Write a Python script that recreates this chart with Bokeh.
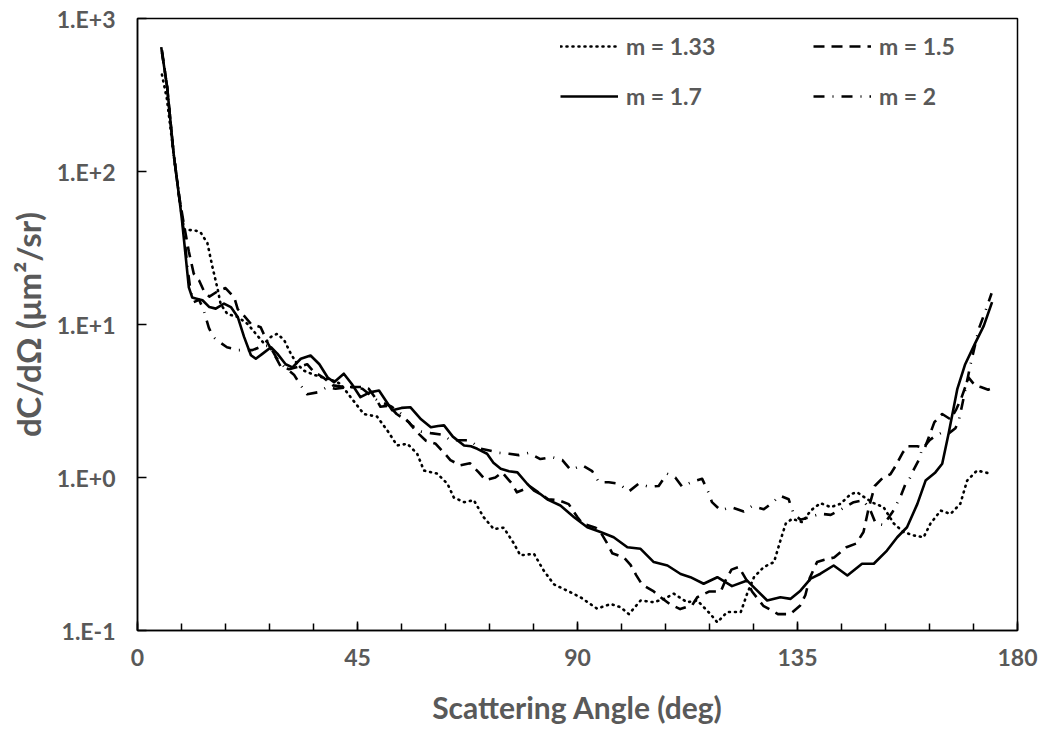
from bokeh.plotting import figure
from bokeh.models import ColumnDataSource, FixedTicker, Legend, LegendItem, Range1d
from bokeh.embed import file_html
from bokeh.resources import INLINE

# ---- data (angle in deg, dC/dOmega in um^2/sr) ----
ang_133 = [5.0, 6.0, 7.4, 8.5, 9.5, 10.5, 12.0, 12.9, 14.3, 15.3, 16.4, 17.0, 18.4, 20.5, 22.5, 24.2, 25.9,
           27.3, 28.6, 30.0, 31.4, 32.7, 34.0, 36.0, 38.0, 40.0, 41.5, 43.6, 46.3, 49.0, 51.1, 53.1, 55.2,
           57.2, 58.6, 61.3, 63.4, 64.7, 66.8, 68.8, 70.8, 72.9, 74.9, 77.0, 78.3, 81.1, 83.1, 85.2, 87.9,
           90.6, 94.0, 96.8, 98.8, 100.5, 102.9, 105.6, 107.7, 109.7, 112.4, 114.5, 117.2, 118.6, 120.6,
           123.4, 124.7, 126.1, 128.1, 130.2, 131.5, 132.6, 133.9, 136.0, 137.7, 139.7, 141.8, 143.8, 145.9,
           147.2, 149.3, 150.6, 152.6, 154.7, 156.7, 158.8, 160.8, 162.2, 164.3, 166.3, 168.3, 169.7, 171.7,
           174.5]
val_133 = [430, 300, 130, 70, 42, 41.5, 41, 40, 34, 24, 17, 13.6, 11.7, 11.2, 10.1, 8.7, 7.5,
           8.3, 8.7, 7.9, 6.4, 5.5, 5.0, 4.7, 4.5, 4.3, 4.1, 3.35, 2.6, 2.5, 2.03, 1.62, 1.66,
           1.43, 1.11, 1.06, 0.91, 0.74, 0.69, 0.71, 0.55, 0.46, 0.47, 0.37, 0.31, 0.317, 0.246, 0.2, 0.182,
           0.165, 0.139, 0.149, 0.142, 0.128, 0.157, 0.153, 0.161, 0.174, 0.153, 0.157, 0.128, 0.113, 0.132,
           0.132, 0.174, 0.223, 0.26, 0.28, 0.387, 0.5, 0.537, 0.51, 0.608, 0.68, 0.64, 0.673, 0.78,
           0.8, 0.72, 0.68, 0.64, 0.5, 0.44, 0.418, 0.407, 0.5, 0.608, 0.578, 0.673, 0.955, 1.11,
           1.06]

ang_15 = [5.0, 6.07, 7.4, 8.45, 9.5, 10.5, 11.5, 12.6, 13.6, 14.7, 16.4, 18.0, 19.8, 20.5, 21.5, 23.2, 25.2,
          26.7, 28.3, 29.3, 31.0, 33.0, 34.7, 36.1, 38.0, 40.0, 42.5, 46.0, 47.3, 48.7, 49.7, 51.4, 53.0,
          55.5, 57.0, 59.0, 61.0, 62.7, 64.0, 66.0, 68.0, 69.8, 71.2, 73.2, 74.6, 76.6, 77.6, 80.4, 82.0,
          84.0, 86.2, 88.2, 90.0, 91.0, 93.7, 94.7, 96.1, 97.1, 99.5, 100.8, 102.0, 103.2, 105.6, 107.0,
          109.0, 111.0, 113.5, 114.5, 117.0, 119.3, 120.2, 121.5, 123.0, 124.7, 125.7, 128.0, 131.0, 133.5,
          135.5, 136.6, 137.5, 139.0, 140.5, 142.5, 145.0, 147.0, 148.5, 149.5, 150.8, 152.5, 154.0, 155.0,
          156.5, 157.5, 159.5, 161.0, 162.3, 163.0, 164.6, 166.3, 167.5, 168.5, 170.0, 171.3, 172.5, 174.0,
          175.0]
val_15 = [620, 355, 130, 71, 45, 30, 21.5, 19.4, 16.5, 15.2, 16.5, 17.3, 15, 12.6, 11.7, 10.1, 9.6,
          7.5, 6.1, 5.3, 5.1, 5.3, 5.5, 4.9, 4.5, 4.0, 3.9, 3.9, 3.8, 3.3, 2.9, 2.95, 2.6,
          2.3, 2.0, 1.74, 1.66, 1.45, 1.3, 1.2, 1.24, 1.08, 0.96, 1.0, 1.08, 0.91, 0.8, 0.87, 0.8,
          0.72, 0.71, 0.67, 0.55, 0.5, 0.47, 0.44, 0.37, 0.32, 0.3, 0.27, 0.23, 0.2, 0.18, 0.165,
          0.148, 0.138, 0.147, 0.165, 0.18, 0.18, 0.21, 0.25, 0.26, 0.21, 0.18, 0.145, 0.128, 0.128,
          0.145, 0.17, 0.22, 0.28, 0.29, 0.3, 0.35, 0.37, 0.44, 0.62, 0.88, 1.0, 1.05, 1.18,
          1.45, 1.6, 1.6, 1.55, 2.0, 2.3, 2.6, 2.4, 2.8, 3.3, 4.5, 4.0, 3.9, 3.75,
          3.85]

ang_17 = [4.85, 6.07, 7.4, 8.45, 9.1, 9.8, 10.5, 11.2, 11.9, 13.3, 14.7, 16.0, 17.7, 19.1, 20.5, 21.8, 23.2,
          24.2, 25.6, 27.3, 28.6, 30.3, 31.7, 33.4, 35.4, 37.2, 38.9, 40.2, 42.2, 43.8, 45.6, 47.5, 49.4,
          51.0, 52.1, 54.0, 55.8, 58.0, 60.0, 61.5, 62.7, 64.5, 66.8, 68.2, 69.5, 71.5, 72.8, 74.3, 76.0,
          77.7, 79.7, 81.1, 82.4, 83.8, 86.5, 89.3, 92.0, 94.7, 97.4, 100.2, 102.9, 105.6, 108.4, 111.1,
          113.1, 115.8, 118.6, 121.6, 124.7, 126.4, 128.8, 131.5, 133.6, 135.6, 137.7, 139.7, 142.4, 145.2,
          148.2, 150.6, 153.3, 155.4, 157.4, 159.5, 161.2, 163.2, 164.6, 165.9, 167.7, 169.3, 171.3, 173.1,
          174.8]
val_17 = [650, 355, 130, 71, 48, 29, 17.5, 15, 14.8, 14.4, 13, 12.7, 13.7, 13, 11.2, 8.3, 6.3,
          5.97, 6.45, 7.1, 6.45, 5.5, 5.25, 5.97, 6.27, 5.5, 4.5, 4.2, 4.77, 4.1, 3.35, 3.6, 3.7,
          3.1, 2.75, 2.85, 2.88, 2.4, 2.13, 2.17, 2.19, 1.85, 1.62, 1.6, 1.54, 1.43, 1.25, 1.14, 1.1,
          1.08, 0.91, 0.82, 0.78, 0.72, 0.656, 0.55, 0.473, 0.44, 0.407, 0.35, 0.342, 0.28, 0.266, 0.234,
          0.223, 0.202, 0.223, 0.195, 0.212, 0.187, 0.157, 0.165, 0.161, 0.182, 0.218, 0.235, 0.266, 0.229,
          0.273, 0.273, 0.333, 0.407, 0.473, 0.67, 0.955, 1.08, 1.23, 1.93, 3.8, 5.5, 7.5, 9.8,
          14]

ang_2 = [5.0, 6.07, 7.4, 8.45, 9.5, 10.2, 10.8, 11.5, 12.6, 13.5, 14.6, 15.5, 16.2, 18.3, 20.7, 23.5, 25.5,
         27.0, 28.5, 30.0, 32.0, 33.4, 34.7, 36.8, 38.8, 40.5, 43.0, 46.0, 49.0, 52.0, 54.0, 56.0, 58.0,
         60.0, 62.5, 64.0, 66.0, 68.0, 70.0, 72.0, 74.0, 76.0, 78.0, 80.0, 82.4, 84.8, 86.9, 88.6, 91.0,
         93.0, 94.4, 96.4, 98.5, 100.5, 102.5, 104.6, 106.6, 108.3, 110.0, 111.4, 113.5, 115.5, 116.7, 117.5,
         119.3, 121.4, 124.0, 125.7, 128.1, 130.0, 131.4, 133.2, 134.2, 135.6, 137.5, 139.7, 141.8, 144.0,
         146.5, 148.5, 150.0, 151.0, 152.6, 154.5, 156.0, 157.1, 157.8, 158.8, 159.8, 160.5, 162.0, 163.2,
         164.6, 166.0, 167.3, 168.0, 168.7, 170.4, 172.1, 173.5, 174.7]
val_2 = [600, 355, 130, 71, 40, 24, 17, 14, 14.5, 12.5, 9.5, 8.3, 7.9, 7.1, 6.8, 6.8, 7.2,
         7.3, 6.0, 5.3, 4.7, 4.0, 3.5, 3.6, 3.9, 3.8, 3.9, 3.8, 3.2, 2.9, 2.6, 2.2, 2.0,
         1.95, 1.9, 1.75, 1.75, 1.75, 1.55, 1.5, 1.45, 1.43, 1.4, 1.45, 1.32, 1.36, 1.3, 1.12, 1.2,
         1.1, 0.93, 0.93, 0.91, 0.81, 0.91, 0.87, 0.88, 1.06, 1.0, 0.87, 0.94, 0.98, 0.81, 0.69,
         0.61, 0.64, 0.6, 0.65, 0.62, 0.69, 0.76, 0.72, 0.58, 0.53, 0.55, 0.58, 0.57, 0.62,
         0.69, 0.71, 0.6, 0.5, 0.49, 0.6, 0.74, 0.91, 0.96, 1.13, 1.3, 1.54, 1.75, 1.87,
         1.97, 1.95, 2.1, 2.36, 3.0, 5.5, 9.4, 12.4, 16]

series_labels = ["m = 1.33", "m = 1.5", "m = 1.7", "m = 2"]
x_ticks = [0, 45, 90, 135, 180]
x_minor = [0, 9, 18, 27, 36, 45, 54, 63, 72, 81, 90, 99, 108, 117, 126, 135, 144, 153, 162, 171, 180]
y_ticks = [0.1, 1, 10, 100, 1000]
y_tick_labels = ["1.E-1", "1.E+0", "1.E+1", "1.E+2", "1.E+3"]

GRAY = "#595959"
FONT = "Lato"

p = figure(width=1042, height=730, output_backend="svg", toolbar_location=None,
           y_axis_type="log", x_range=Range1d(0, 180), y_range=Range1d(0.1, 1000),
           min_border_left=137, min_border_right=25, min_border_top=18, min_border_bottom=100)
p.background_fill_color = "white"
p.border_fill_color = "white"
p.outline_line_color = "black"
p.outline_line_width = 1.5
p.grid.visible = False

styles = [
    dict(line_dash="1 5", line_cap="round", line_width=2.6),
    dict(line_dash="11 7", line_width=2.6),
    dict(line_dash="solid", line_width=2.6),
    dict(line_dash="11 8 1 8", line_cap="butt", line_width=2.6),
]
data = [(ang_133, val_133), (ang_15, val_15), (ang_17, val_17), (ang_2, val_2)]
renderers = []
for (xs, ys), st in zip(data, styles):
    src = ColumnDataSource(dict(x=xs, y=ys))
    r = p.line("x", "y", source=src, line_color="black", line_join="round", **st)
    renderers.append(r)

# axes
for ax in (p.xaxis[0], p.yaxis[0]):
    ax.axis_line_color = "black"
    ax.axis_line_width = 1.5
    ax.major_tick_line_color = "black"
    ax.major_tick_line_width = 1.5
    ax.minor_tick_line_color = "black"
    ax.minor_tick_line_width = 1.5
    ax.major_tick_out = 0
    ax.minor_tick_out = 0
    ax.major_label_text_font = FONT
    ax.major_label_text_font_style = "bold"
    ax.major_label_text_font_size = "23px"
    ax.major_label_text_color = GRAY
    ax.axis_label_text_font = FONT
    ax.axis_label_text_font_style = "bold"
    ax.axis_label_text_font_size = "30px"
    ax.axis_label_text_color = GRAY

p.xaxis.ticker = FixedTicker(ticks=x_ticks, minor_ticks=x_minor)
p.xaxis.major_tick_in = 9
p.xaxis.minor_tick_in = 7
p.xaxis.major_label_standoff = 18
p.xaxis.axis_label = "Scattering Angle (deg)"
p.xaxis.axis_label_standoff = 20

p.yaxis.ticker = FixedTicker(ticks=y_ticks, minor_ticks=[])
p.yaxis.major_tick_in = 9
p.yaxis.major_label_overrides = {t: s for t, s in zip(y_ticks, y_tick_labels)}
p.yaxis.major_label_standoff = 22
p.yaxis.axis_label = "dC/dΩ (μm²/sr)"
p.yaxis.axis_label_text_font_size = "33px"
p.yaxis.axis_label_standoff = 6

legend = Legend(items=[LegendItem(label=l, renderers=[r]) for l, r in zip(series_labels, renderers)],
                orientation="horizontal", ncols=2, location=(423, 520))
legend.border_line_color = None
legend.background_fill_alpha = 0
legend.label_text_font = FONT
legend.label_text_font_style = "bold"
legend.label_text_font_size = "23px"
legend.label_text_color = GRAY
legend.glyph_width = 58
legend.glyph_height = 22
legend.label_standoff = 8
legend.label_width = 165
legend.spacing = 22
legend.padding = 0
legend.margin = 0
p.add_layout(legend, "center")

open("out.html", "w").write(file_html(p, INLINE))
